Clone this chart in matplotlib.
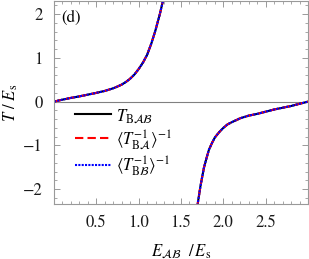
import matplotlib
matplotlib.use("Agg")
import matplotlib.pyplot as plt
from matplotlib.ticker import MultipleLocator, FixedLocator

plt.rcParams['mathtext.fontset'] = 'stix'
plt.rcParams['font.family'] = ['STIXGeneral', 'DejaVu Serif']

# Data (branch below the pole and branch above it)
E_upper = [0.0, 0.1, 0.2, 0.3, 0.4, 0.5, 0.6, 0.7, 0.75, 0.8, 0.85, 0.9, 0.95,
           1.0, 1.05, 1.1, 1.15, 1.2, 1.25, 1.29, 1.31]
T_upper = [0.0, 0.045, 0.085, 0.12, 0.16, 0.20, 0.245, 0.305, 0.345, 0.39,
           0.45, 0.525, 0.62, 0.745, 0.89, 1.07, 1.33, 1.64, 2.0, 2.33, 2.55]
E_lower = [1.69, 1.7, 1.73, 1.77, 1.8, 1.83, 1.87, 1.9, 1.95, 2.0, 2.05, 2.1,
           2.2, 2.3, 2.4, 2.5, 2.6, 2.7, 2.8, 2.9, 3.0]
T_lower = [-2.45, -2.30, -1.93, -1.52, -1.30, -1.10, -0.93, -0.82, -0.70,
           -0.60, -0.52, -0.47, -0.38, -0.32, -0.28, -0.23, -0.18, -0.14,
           -0.10, -0.05, 0.0]

labels = [r'$T_{\mathrm{B}\mathcal{A}\mathcal{B}}$',
          r'$\langle T^{-1}_{\mathrm{B}\mathcal{A}}\rangle^{-1}$',
          r'$\langle T^{-1}_{\mathrm{B}\mathcal{B}}\rangle^{-1}$']

fig = plt.figure(figsize=(3.09, 2.59), dpi=100)
ax = fig.add_axes([54/309, 1 - 204/259, 254/309, 203/259])

ax.axhline(0, color='#808080', lw=0.8, zorder=1)

styles = [dict(color='black', ls='-'),
          dict(color='red', ls=(0, (4, 2))),
          dict(color='blue', ls=(0, (1, 0.6)))]
for st, lab in zip(styles, labels):
    ax.plot(E_upper, T_upper, lw=1.5, label=lab, **st)
    ax.plot(E_lower, T_lower, lw=1.5, **st)

ax.set_xlim(0.0, 3.0)
ax.set_ylim(-2.34, 2.3)

ax.xaxis.set_major_locator(FixedLocator([0.5, 1.0, 1.5, 2.0, 2.5]))
ax.xaxis.set_minor_locator(MultipleLocator(0.1))
ax.yaxis.set_minor_locator(MultipleLocator(0.2))
ax.set_xticklabels(['0.5', '1.0', '1.5', '2.0', '2.5'])
ax.set_yticks([-2, -1, 0, 1, 2])
ax.set_yticklabels(['\u22122', '\u22121', '0', '1', '2'])

for sp in ax.spines.values():
    sp.set_color('#999999')
    sp.set_linewidth(0.8)
ax.tick_params(which='both', direction='in', top=True, right=True,
               color='#999999', labelsize=12, labelcolor='#1a1a1a')
ax.tick_params(which='major', length=4, width=0.7, pad=8)
ax.tick_params(which='minor', length=2, width=0.6)

ax.set_xlabel(r'$E_{\mathcal{A}\mathcal{B}}\ \ /\, E_{\mathrm{s}}$', fontsize=12, labelpad=8)
ax.set_ylabel(r'$T\ /\ E_{\mathrm{s}}$', fontsize=12, labelpad=2)

ax.text(0.03, 0.955, '(d)', transform=ax.transAxes, fontsize=12, va='top', ha='left')

handles, labs = ax.get_legend_handles_labels()
leg = ax.legend(handles, labs, loc='lower left', bbox_to_anchor=(0.035, 0.07),
                frameon=False, fontsize=12, handlelength=2.2, handletextpad=0.3,
                labelspacing=0.2, borderpad=0.2)

fig.savefig('out.png', dpi=100)
